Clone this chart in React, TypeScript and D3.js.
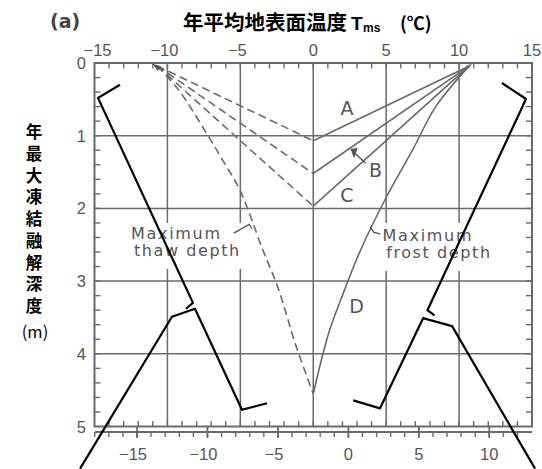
import React from 'react';
import * as d3 from 'd3';

// ---- data ----
const xGrid = [-10, -5, 0, 5, 10];
const xTickLabels = [-15, -10, -5, 0, 5, 10, 15];
const yGrid = [1, 2, 3, 4];
const yTickLabels = [0, 1, 2, 3, 4, 5];
const bottomTickLabels = [-15, -10, -5, 0, 5, 10];

const thawOrigin: [number, number] = [-10.7, 0.04];
const frostOrigin: [number, number] = [10.7, 0.04];
const curveNames = ['A', 'B', 'C'];
const curveDepths = [1.07, 1.52, 1.97];

const thawCurveD: [number, number][] = [
  [-10.7, 0.04], [-9.2, 0.38], [-7.4, 0.94], [-6.2, 1.34], [-5, 1.76],
  [-3.5, 2.55], [-2.4, 3.1], [-1.2, 3.88], [0, 4.55],
];
const frostCurveD: [number, number][] = [
  [10.7, 0.04], [8.4, 0.6], [6.8, 1.2], [5, 1.85], [3.25, 2.57],
  [1.9, 3.25], [1.05, 3.72], [0, 4.55],
];

// overlay black strokes (°C, m)
const overlayLeftTop: [number, number][] = [[-13.25, 0.3], [-14.76, 0.48], [-8.25, 3.3], [-8.73, 3.38]];
const overlayLeftBottom: [number, number][] = [[-15.99, 5.58], [-9.69, 3.49], [-8.11, 3.38], [-4.89, 4.77], [-3.17, 4.68]];
const overlayRightTop: [number, number][] = [[12.94, 0.275], [14.59, 0.495], [7.83, 3.4], [8.31, 3.47]];
const overlayRightBottom: [number, number][] = [[2.74, 4.64], [4.58, 4.75], [7.53, 3.51], [9.52, 3.62], [15.21, 5.58]];

const yLabelChars = ['年', '最', '大', '凍', '結', '融', '解', '深', '度'];

export default function App() {
  const W = 542, H = 469;
  const xs = d3.scaleLinear().domain([-15, 15]).range([94.5, 532]);
  const ys = d3.scaleLinear().domain([0, 5]).range([63, 426.5]);
  const xb = d3.scaleLinear().domain([-15, 10]).range([137, 489.3]);

  const line = d3.line<[number, number]>().x(d => xs(d[0])).y(d => ys(d[1]));
  const curve = d3.line<[number, number]>().x(d => xs(d[0])).y(d => ys(d[1])).curve(d3.curveCatmullRom.alpha(0.5));

  const gray = '#6a6a6a';
  const textGray = '#555';
  const numFont = '"Liberation Sans", Arial, sans-serif';
  const lblFont = '"DejaVu Sans", sans-serif';
  const cjk = '"Noto Sans CJK JP", "Noto Sans CJK SC", sans-serif';

  const x0 = xs(-15), x1 = xs(15), y0 = ys(0), y1 = ys(5);
  const topTicks = d3.range(-14, 15);
  const sideTicks = d3.range(1, 25).map(i => i / 5);
  const bottomMinor = d3.range(-18, 13);
  const by = y1 + 5.5;

  return (
    <svg width={W} height={H} style={{ position: 'absolute', left: 0, top: 0, background: '#fff' }}>
      <rect x={0} y={0} width={W} height={H} fill="#fff" />
      {/* title */}
      <text x={50} y={28} fontFamily={lblFont} fontWeight="bold" fontSize={19} fill="#444">(a)</text>
      <text x={183} y={30} fontFamily={cjk} fontWeight="bold" fontSize={20.5} fill="#000">
        年平均地表面温度
      </text>
      <text x={351} y={30} fontFamily={numFont} fontWeight="bold" fontSize={19} fill="#000">T</text>
      <text x={363} y={32} fontFamily={numFont} fontWeight="bold" fontSize={12} fill="#000">ms</text>
      <text x={400} y={30} fontFamily={cjk} fontWeight="bold" fontSize={18} fill="#000">(℃)</text>

      {/* y axis title */}
      {yLabelChars.map((c, i) => (
        <text key={c + i} x={34} y={138 + i * 21.75} textAnchor="middle" fontFamily={cjk} fontWeight="bold" fontSize={16.5} fill="#000">{c}</text>
      ))}
      <text x={35} y={338} textAnchor="middle" fontFamily={cjk} fontSize={16.5} fill="#000">(m)</text>

      {/* grid */}
      {xGrid.map(v => (
        <line key={'gx' + v} x1={xs(v)} x2={xs(v)} y1={y0} y2={y1} stroke={gray} strokeWidth={1.5} />
      ))}
      {yGrid.map(v => (
        <line key={'gy' + v} x1={x0} x2={x1} y1={ys(v)} y2={ys(v)} stroke={gray} strokeWidth={1.5} />
      ))}

      {/* ticks */}
      {topTicks.map(v => (
        <line key={'tt' + v} x1={xs(v)} x2={xs(v)} y1={y0} y2={y0 + 5.5} stroke={gray} strokeWidth={1.4} />
      ))}
      {topTicks.map(v => (
        <line key={'bt' + v} x1={xs(v)} x2={xs(v)} y1={y1} y2={y1 - 5.5} stroke={gray} strokeWidth={1.4} />
      ))}
      {sideTicks.map(v => (
        <line key={'lt' + v} x1={x0} x2={x0 + 6} y1={ys(v)} y2={ys(v)} stroke={gray} strokeWidth={1.4} />
      ))}
      {sideTicks.map(v => (
        <line key={'rt' + v} x1={x1} x2={x1 - 6} y1={ys(v)} y2={ys(v)} stroke={gray} strokeWidth={1.4} />
      ))}

      {/* frame */}
      <rect x={x0} y={y0} width={x1 - x0} height={y1 - y0} fill="none" stroke={gray} strokeWidth={2} />

      {/* top labels */}
      {xTickLabels.map(v => (
        <text key={'xl' + v} x={v === -15 ? xs(v) - 11 : xs(v) + (v < 0 ? -3 : 0)} y={55.5}
          textAnchor={v === -15 ? 'start' : 'middle'} fontFamily={numFont} fontSize={16.5} fill={textGray}>
          {v < 0 ? '−' + Math.abs(v) : String(v)}
        </text>
      ))}
      {yTickLabels.map(v => (
        <text key={'yl' + v} x={86} y={ys(v) + 6} textAnchor="end" fontFamily={numFont} fontSize={16.5} fill={textGray}>{v}</text>
      ))}

      {/* second bottom axis */}
      <line x1={95} x2={532} y1={by} y2={by} stroke={gray} strokeWidth={1.8} />
      {bottomMinor.map(v => (
        <line key={'bm' + v} x1={xb(v)} x2={xb(v)} y1={by} y2={by + 5} stroke={gray} strokeWidth={1.4} />
      ))}
      {bottomTickLabels.map(v => (
        <line key={'bM' + v} x1={xb(v)} x2={xb(v)} y1={y1} y2={by + 6} stroke={gray} strokeWidth={1.8} />
      ))}
      {bottomTickLabels.map(v => (
        <text key={'bl' + v} x={xb(v) + (v < 0 ? -4 : 0)} y={460} textAnchor="middle" fontFamily={numFont} fontSize={16.5} fill={textGray}>
          {v < 0 ? '−' + Math.abs(v) : String(v)}
        </text>
      ))}

      {/* white boxes behind label texts */}
      <rect x={xs(-12.6)} y={ys(2.2)} width={122} height={46} fill="#fff" />
      <rect x={xs(4.5)} y={ys(2.2)} width={120} height={48} fill="#fff" />

      {/* thaw (dashed) */}
      {curveDepths.map((d, i) => (
        <path key={'th' + i} d={line([thawOrigin, [0, d]]) || ''} fill="none" stroke={gray} strokeWidth={1.6} strokeDasharray="8,4.5" />
      ))}
      <path d={curve(thawCurveD) || ''} fill="none" stroke={gray} strokeWidth={1.6} strokeDasharray="8,4.5" />
      {/* frost (solid) */}
      {curveDepths.map((d, i) => (
        <path key={'fr' + i} d={line([frostOrigin, [0, d]]) || ''} fill="none" stroke={gray} strokeWidth={1.6} />
      ))}
      <path d={curve(frostCurveD) || ''} fill="none" stroke={gray} strokeWidth={1.6} />

      {/* convergence marks */}
      <path d={`M${xs(-10.7) - 5},${y0 + 0.5} L${xs(-10.7) + 4},${y0 + 3.5} L${xs(-10.7) + 0.5},${y0 + 8} Z`} fill="#555" />
      <path d={`M${xs(10.7) + 3},${y0 + 0.5} L${xs(10.7) - 4},${y0 + 3} L${xs(10.7) - 1},${y0 + 6} Z`} fill="#777" />

      {/* curve letters */}
      <text x={xs(2.31)} y={ys(0.715)} textAnchor="middle" fontFamily={lblFont} fontSize={19} fill={textGray}>{curveNames[0]}</text>
      <text x={xs(4.27)} y={ys(1.57)} textAnchor="middle" fontFamily={lblFont} fontSize={19} fill={textGray}>{curveNames[1]}</text>
      <text x={xs(2.31)} y={ys(1.91)} textAnchor="middle" fontFamily={lblFont} fontSize={19} fill={textGray}>{curveNames[2]}</text>
      <text x={xs(2.97)} y={ys(3.44)} textAnchor="middle" fontFamily={lblFont} fontSize={19} fill={textGray}>D</text>
      {/* B arrow */}
      <line x1={xs(3.6)} y1={ys(1.38)} x2={xs(2.75)} y2={ys(1.22)} stroke="#555" strokeWidth={1.5} />
      <path d={`M${xs(2.55)},${ys(1.18)} L${xs(3.05)},${ys(1.17)} L${xs(2.8)},${ys(1.31)} Z`} fill="#555" />

      {/* Maximum labels */}
      <text x={xs(-12.5)} y={239} fontFamily={lblFont} fontSize={16} letterSpacing={1.7} fill={textGray}>Maximum</text>
      <text x={xs(-12.3)} y={256} fontFamily={lblFont} fontSize={16} letterSpacing={1.6} fill={textGray}>thaw depth</text>
      <polyline points={`${xs(-5.45)},${ys(2.34)} ${xs(-4.4)},${ys(2.22)} ${xs(-4.2)},${ys(2.28)}`} fill="none" stroke="#555" strokeWidth={1.3} />
      <text x={xs(4.75)} y={241} fontFamily={lblFont} fontSize={16} letterSpacing={1.7} fill={textGray}>Maximum</text>
      <text x={xs(5.0)} y={258} fontFamily={lblFont} fontSize={16} letterSpacing={1.6} fill={textGray}>frost depth</text>
      <polyline points={`${xs(3.9)},${ys(2.25)} ${xs(4.15)},${ys(2.33)} ${xs(4.6)},${ys(2.35)}`} fill="none" stroke="#555" strokeWidth={1.3} />

      {/* black overlay strokes */}
      {[overlayLeftTop, overlayLeftBottom, overlayRightTop, overlayRightBottom].map((pts, i) => (
        <path key={'ov' + i} d={line(pts) || ''} fill="none" stroke="#000" strokeWidth={2.2} strokeLinejoin="round" />
      ))}
    </svg>
  );
}
